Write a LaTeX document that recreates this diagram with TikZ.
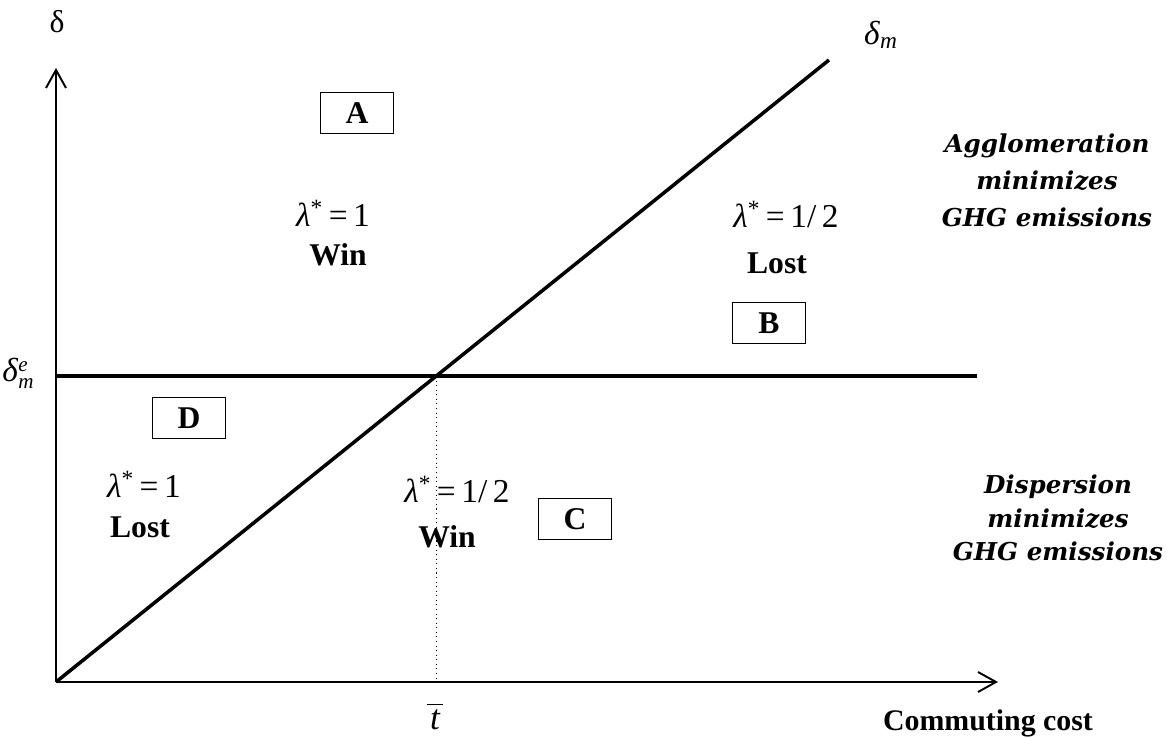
\documentclass[tikz,border=0pt]{standalone}
\usepackage{fontspec}
\setmainfont{Liberation Serif}
\newfontfamily\wideserif{DejaVu Serif}
\usepackage{tikz}
\usetikzlibrary{arrows.meta,positioning}
\usepackage{xcolor}
\definecolor{lineblack}{RGB}{0,0,0}

\tikzset{
  regionbox/.style={draw=lineblack,line width=0.8pt,minimum width=1.46cm,minimum height=0.82cm,inner sep=0pt,font=\fontsize{18}{20}\selectfont\bfseries},
  lam/.style={font=\fontsize{19}{22}\selectfont},
  verdict/.style={font=\fontsize{18}{21}\selectfont\bfseries},
  remark/.style={font=\fontsize{14}{21}\selectfont\wideserif\bfseries\itshape,align=center}
}

\begin{document}
\begin{tikzpicture}
\useasboundingbox (-1.12,-1.12) rectangle (22.22,13.64);
% axes
\coordinate (O) at (0,0);
\coordinate (ytop) at (0,12.28);
\coordinate (xend) at (18.84,0);
\draw[-{Straight Barb[length=3.6mm,width=4mm]}, line width=1.1pt] (O) -- (ytop);
\draw[-{Straight Barb[length=3.6mm,width=4mm]}, line width=1.1pt] (O) -- (xend);
\node[font=\fontsize{18}{20}\selectfont] (dlab) at (0.02,13.20) {δ};
\node[font=\fontsize{17}{20}\selectfont\bfseries] (xlab) at (18.64,-0.82) {Commuting cost};
% the two lines
\coordinate (dmtop) at (15.46,12.44);
\coordinate (dmeleft) at (0,6.12);
\coordinate (dmeright) at (18.42,6.12);
\coordinate (cross) at (7.605,6.12);
\coordinate (tbar) at (7.605,0);
\draw[line width=2pt] (O) -- (dmtop);
\draw[line width=2pt] (dmeleft) -- (dmeright);
\draw[dotted, line width=0.6pt] (cross) -- (tbar);
\node[lam] (dmlab) at (16.5,12.94) {\textit{δ}\textsubscript{\textit{m}}};
\node[lam] (dmelab) at (-0.76,6.12) {\textit{δ}\fontsize{12}{12}\selectfont\begin{tabular}[c]{@{}l@{}}\textit{e}\\[-2pt]\textit{m}\end{tabular}};
\node[font=\fontsize{20}{22}\selectfont] (tlab) at (7.56,-0.70) {\rlap{\rule[14pt]{9pt}{0.8pt}}\hspace{1.5pt}\textit{t}\hspace{1.5pt}};
% regions
\node[regionbox] (A) at (6.02,11.38) {A};
\node[lam] (lamA) at (5.54,9.38) {\textit{λ}\textsuperscript{*}\,=\,1};
\node[verdict] (winA) at (5.64,8.54) {Win};
\node[lam] (lamB) at (14.60,9.34) {\textit{λ}\textsuperscript{*}\,=\,1/\,2};
\node[verdict] (lostB) at (14.42,8.38) {Lost};
\node[regionbox] (B) at (14.26,7.18) {B};
\node[regionbox] (D) at (2.66,5.28) {D};
\node[lam] (lamD) at (1.76,3.96) {\textit{λ}\textsuperscript{*}\,=\,1};
\node[verdict] (lostD) at (1.68,3.10) {Lost};
\node[lam] (lamC) at (8.02,3.84) {\textit{λ}\textsuperscript{*}\,=\,1/\,2};
\node[verdict] (winC) at (7.82,2.90) {Win};
\node[regionbox] (C) at (10.38,3.26) {C};
% comments on the right
\node[remark] (aggl) at (19.82,10.04) {Agglomeration\\minimizes\\GHG emissions};
\node[remark,font=\fontsize{14}{19}\selectfont\wideserif\bfseries\itshape] (disp) at (20.04,3.28) {Dispersion\\minimizes\\GHG emissions};
\end{tikzpicture}
\end{document}
